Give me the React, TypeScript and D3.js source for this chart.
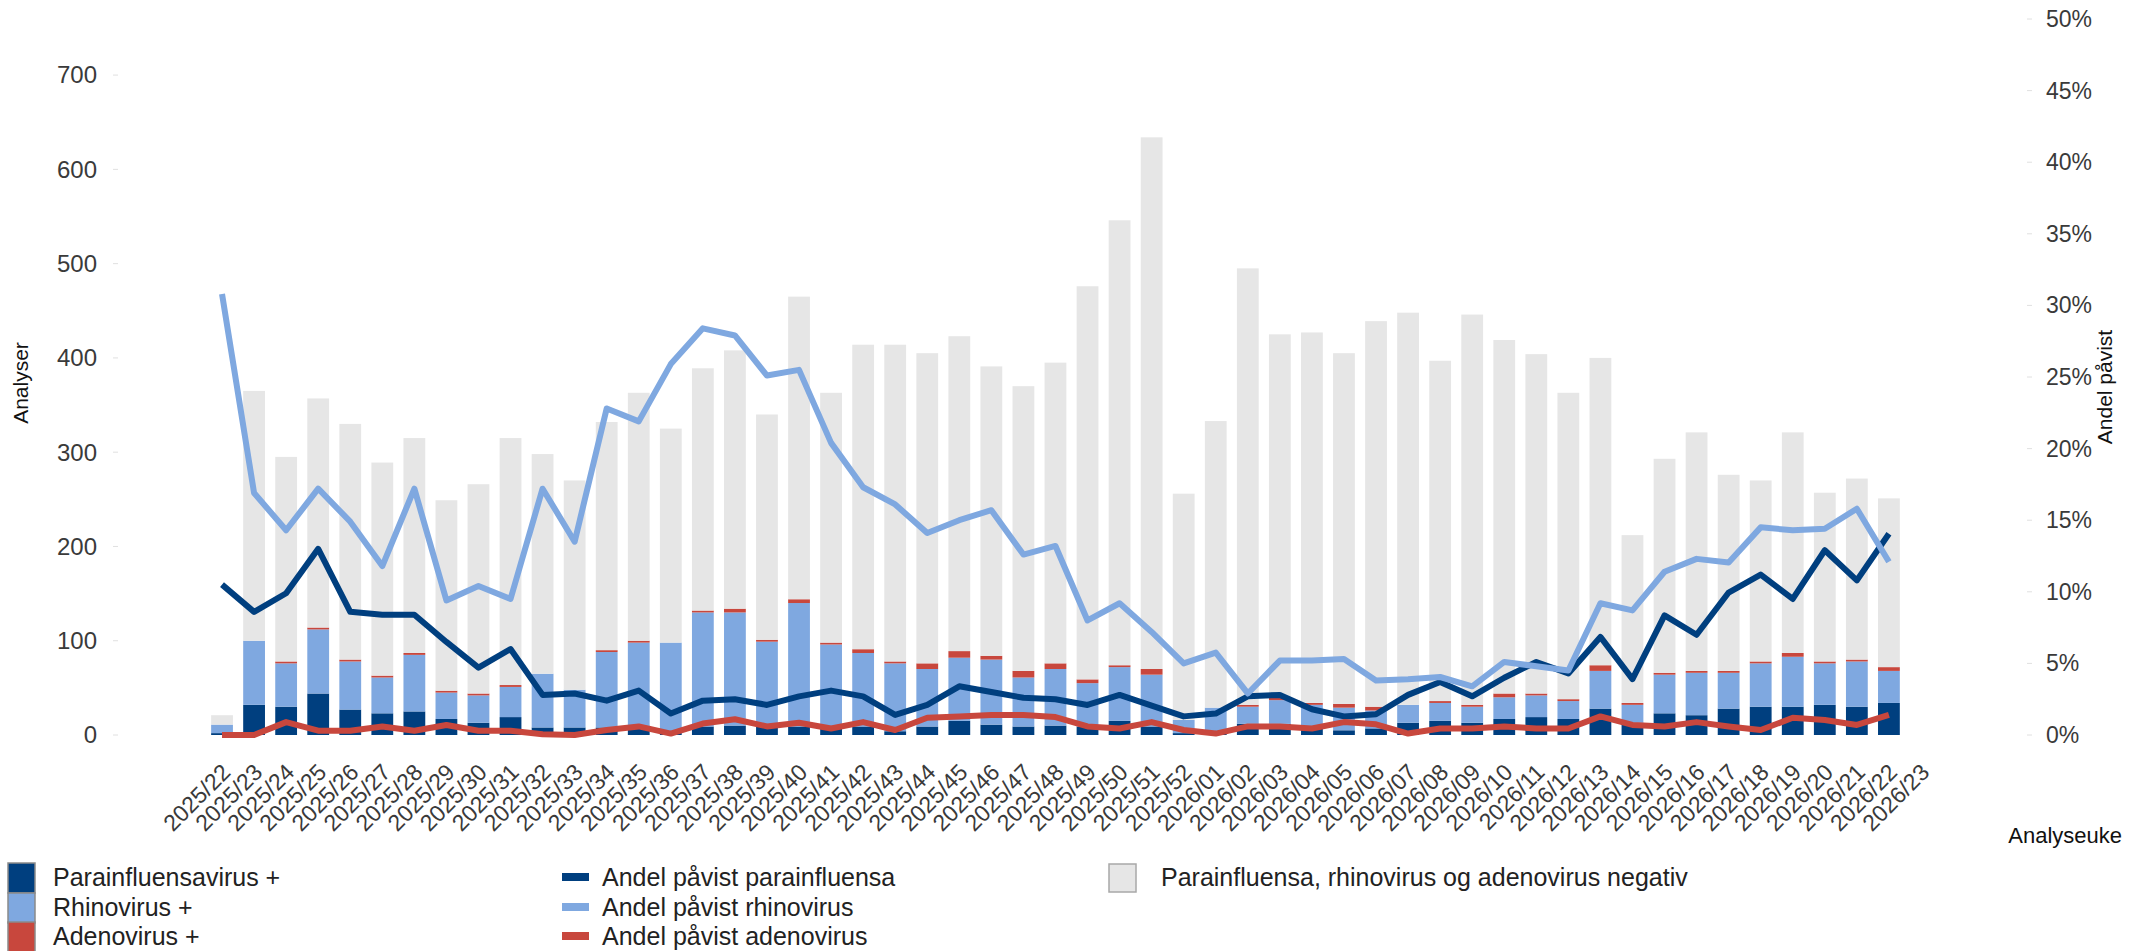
import React from "react";
import * as d3 from "d3";

const weeks = [
  "2025/22","2025/23","2025/24","2025/25","2025/26","2025/27","2025/28","2025/29","2025/30","2025/31",
  "2025/32","2025/33","2025/34","2025/35","2025/36","2025/37","2025/38","2025/39","2025/40","2025/41",
  "2025/42","2025/43","2025/44","2025/45","2025/46","2025/47","2025/48","2025/49","2025/50","2025/51",
  "2025/52","2026/01","2026/02","2026/03","2026/04","2026/05","2026/06","2026/07","2026/08","2026/09",
  "2026/10","2026/11","2026/12","2026/13","2026/14","2026/15","2026/16","2026/17","2026/18","2026/19",
  "2026/20","2026/21","2026/22","2026/23"
];

const paraPos = [2,32,30,44,27,23,25,17,13,19,8,8,8,10,3,9,10,9,9,7,9,4,9,15,11,9,10,9,15,9,2,3,12,12,9,5,7,13,15,13,17,19,17,28,13,23,21,28,30,30,32,30,34];
const rhinoPos = [9,68,46,68,51,38,60,28,29,32,57,40,80,88,95,121,120,90,131,89,78,72,61,67,69,52,60,46,57,55,14,26,18,25,23,24,19,19,19,17,23,23,19,40,19,41,45,38,46,53,44,48,34];
const adenoPos = [0,0,2,2,2,2,2,2,2,2,0,0,2,2,0,2,4,2,4,2,4,2,6,7,4,7,6,4,2,6,0,0,2,3,2,4,4,0,2,2,4,2,2,6,2,2,2,2,2,4,2,2,4];
const negative = [10,265,217,243,250,226,228,202,222,262,233,222,242,263,227,257,274,239,321,265,323,336,329,334,307,302,319,417,472,564,240,304,463,385,393,372,409,416,361,414,375,360,325,326,178,227,253,208,192,234,179,192,179];

const sharePara = [10.5,8.6,9.9,13.0,8.6,8.4,8.4,6.5,4.7,6.0,2.8,2.9,2.4,3.1,1.5,2.4,2.5,2.1,2.7,3.1,2.7,1.4,2.1,3.4,3.0,2.6,2.5,2.1,2.8,2.05,1.3,1.5,2.7,2.8,1.8,1.3,1.45,2.8,3.7,2.7,4.0,5.1,4.3,6.85,3.9,8.35,7.0,9.95,11.2,9.5,12.9,10.8,14.05];
const shareRhino = [30.8,16.9,14.3,17.2,14.9,11.8,17.2,9.4,10.4,9.5,17.2,13.5,22.8,21.9,25.9,28.4,27.9,25.1,25.5,20.4,17.3,16.1,14.1,15.0,15.7,12.6,13.2,8.0,9.2,7.2,5.0,5.75,2.9,5.2,5.2,5.3,3.8,3.9,4.05,3.4,5.1,4.8,4.5,9.2,8.7,11.4,12.3,12.05,14.5,14.3,14.4,15.8,12.1];
const shareAdeno = [0,0,0.9,0.3,0.3,0.6,0.3,0.7,0.3,0.3,0.05,0,0.35,0.6,0.1,0.8,1.1,0.6,0.85,0.45,0.9,0.35,1.2,1.3,1.4,1.4,1.25,0.6,0.45,0.9,0.35,0.1,0.6,0.6,0.45,0.9,0.75,0.1,0.45,0.45,0.6,0.45,0.45,1.3,0.7,0.6,0.9,0.6,0.35,1.2,1.05,0.7,1.4];

const leftTicks = [0,100,200,300,400,500,600,700];
const rightTicks = [0,5,10,15,20,25,30,35,40,45,50];

const C_PARA = "#003F7F";
const C_RHINO = "#7FA8E0";
const C_ADENO = "#C8473D";
const C_NEG = "#E6E6E6";
const FONT = "'Liberation Sans', Arial, sans-serif";

export default function App() {
  React.useEffect(() => { document.body.style.margin = "0"; }, []);
  const W = 2147, H = 951;
  const y0 = 735, yTop = 19;
  const x = d3.scaleBand<string>().domain(weeks).range([206, 1937]).paddingInner(0.32).paddingOuter(0.16);
  const yL = d3.scaleLinear().domain([0, 759.5]).range([y0, yTop]);
  const yR = d3.scaleLinear().domain([0, 50]).range([y0, yTop]);

  const rows = paraPos.map((p, i) => ({ week: weeks[i], para: p, rhino: rhinoPos[i], adeno: adenoPos[i], neg: negative[i] }));
  const keys = ["para", "rhino", "adeno", "neg"];
  const colors: Record<string, string> = { para: C_PARA, rhino: C_RHINO, adeno: C_ADENO, neg: C_NEG };
  const stacked = d3.stack<any>().keys(keys)(rows);

  const cx = (i: number) => (x(weeks[i]) as number) + x.bandwidth() / 2;
  const line = d3.line<number>().x((_, i) => cx(i)).y(d => yR(d)).curve(d3.curveLinear);

  const legendRows = [877, 907, 936];

  return (
    <svg width={W} height={H} style={{ display: "block", position: "absolute", left: 0, top: 0, background: "#fff" }} fontFamily={FONT}>
      {/* bars */}
      {stacked.map(s => (
        <g key={s.key} fill={colors[s.key]}>
          {s.map((d, i) => (
            <rect key={i} x={x(weeks[i])} width={x.bandwidth()} y={yL(d[1])} height={Math.max(0, yL(d[0]) - yL(d[1]))} />
          ))}
        </g>
      ))}
      {/* lines */}
      <path d={line(sharePara) || ""} fill="none" stroke={C_PARA} strokeWidth={6} strokeLinejoin="round" />
      <path d={line(shareRhino) || ""} fill="none" stroke={C_RHINO} strokeWidth={6} strokeLinejoin="round" />
      <path d={line(shareAdeno) || ""} fill="none" stroke={C_ADENO} strokeWidth={6} strokeLinejoin="round" />

      {/* left axis */}
      {leftTicks.map(t => (
        <g key={t}>
          <line x1={113} x2={118} y1={yL(t)} y2={yL(t)} stroke="#e0e0e0" />
          <text x={97} y={yL(t)} dy="0.35em" textAnchor="end" fontSize={24} fill="#3a3a3a">{t}</text>
        </g>
      ))}
      <text transform={`translate(28,383) rotate(-90)`} textAnchor="middle" fontSize={21} fill="#111">Analyser</text>

      {/* right axis */}
      {rightTicks.map(t => (
        <g key={t}>
          <line x1={2027} x2={2032} y1={yR(t)} y2={yR(t)} stroke="#e0e0e0" />
          <text x={2046} y={yR(t)} dy="0.35em" textAnchor="start" fontSize={23} fill="#3a3a3a">{t}%</text>
        </g>
      ))}
      <text transform={`translate(2112,387) rotate(-90)`} textAnchor="middle" fontSize={21} fill="#111">Andel påvist</text>

      {/* x axis labels */}
      {weeks.map((w, i) => (
        <text key={w} transform={`translate(${cx(i) + 4},${y0 + 33}) rotate(-45)`} textAnchor="end" dy="0.35em" fontSize={23} fill="#3a3a3a">{w}</text>
      ))}
      <text x={2122} y={835} dy="0.35em" textAnchor="end" fontSize={22} fill="#111">Analyseuke</text>

      {/* legend column 1 */}
      {[["Parainfluensavirus +", C_PARA], ["Rhinovirus +", C_RHINO], ["Adenovirus +", C_ADENO]].map(([label, c], i) => (
        <g key={label}>
          <rect x={8} y={legendRows[i] - 14} width={27} height={30} fill={c} stroke="#8a8a8a" strokeWidth={1.5} />
          <text x={53} y={legendRows[i]} dy="0.35em" fontSize={25} fill="#222">{label}</text>
        </g>
      ))}
      {/* legend column 2 */}
      {[["Andel påvist parainfluensa", C_PARA], ["Andel påvist rhinovirus", C_RHINO], ["Andel påvist adenovirus", C_ADENO]].map(([label, c], i) => (
        <g key={label}>
          <rect x={562} y={legendRows[i] - 4} width={27} height={8} fill={c} />
          <text x={602} y={legendRows[i]} dy="0.35em" fontSize={25} fill="#222">{label}</text>
        </g>
      ))}
      {/* legend column 3 */}
      <rect x={1109} y={864} width={27} height={28} fill={C_NEG} stroke="#a8a8a8" strokeWidth={1.5} />
      <text x={1161} y={877} dy="0.35em" fontSize={25} fill="#222">Parainfluensa, rhinovirus og adenovirus negativ</text>
    </svg>
  );
}
